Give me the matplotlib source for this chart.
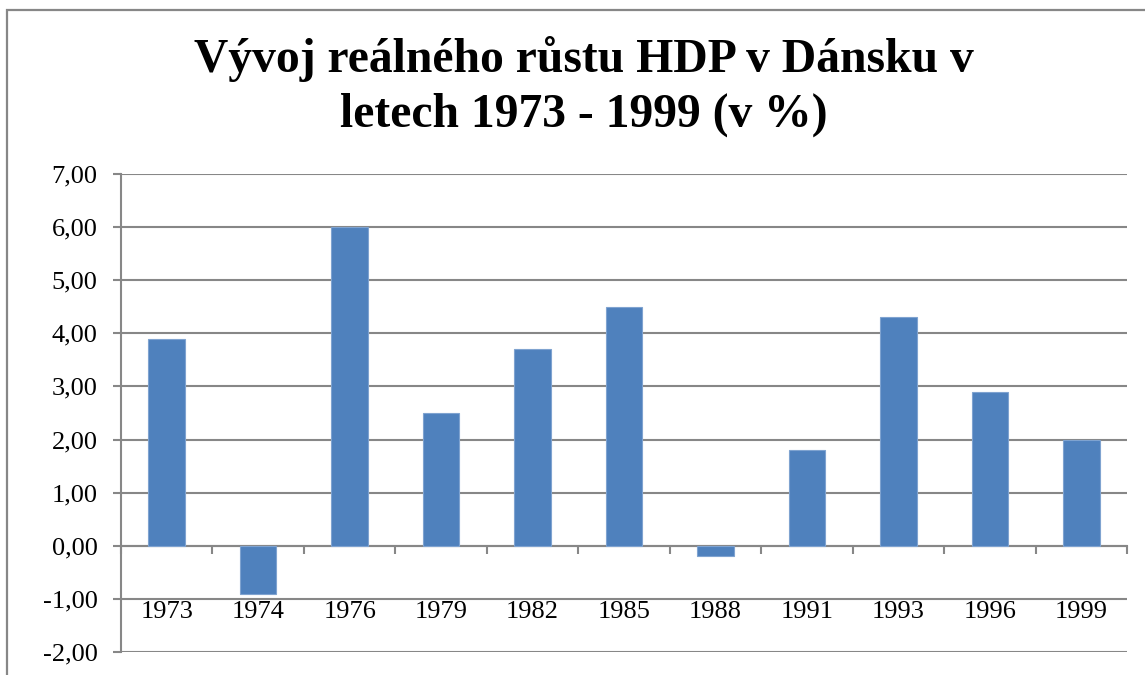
import matplotlib

matplotlib.use("Agg")

import matplotlib.pyplot as plt
import numpy as np
from matplotlib.patches import Rectangle

years = ["1973", "1974", "1976", "1979", "1982", "1985", "1988", "1991", "1993", "1996", "1999"]
growth = [3.9, -0.9, 6.0, 2.5, 3.7, 4.5, -0.2, 1.8, 4.3, 2.9, 2.0]
y_ticks = [-2, -1, 0, 1, 2, 3, 4, 5, 6, 7]
title = "Vývoj reálného růstu HDP v Dánsku v\nletech 1973 - 1999 (v %)"

plt.rcParams["font.family"] = ["Liberation Serif", "DejaVu Serif"]

W, H = 1145, 675
fig = plt.figure(figsize=(W / 100, H / 100), dpi=100)
ax = fig.add_axes([121 / W, 1 - 652 / H, (1127 - 121) / W, (652 - 174) / H])

gray = "#878787"
x = np.arange(len(years))
ax.bar(x, growth, width=0.4, color="#4F81BD", edgecolor="#7FA3D0", linewidth=0.8, zorder=3)

ax.set_xlim(-0.5, len(years) - 0.5)
ax.set_ylim(y_ticks[0], y_ticks[-1])
ax.set_yticks(y_ticks)
ax.set_yticklabels([f"{v:.2f}".replace(".", ",") for v in y_ticks])
ax.yaxis.grid(True, color=gray, linewidth=1.5, zorder=0)
ax.set_axisbelow(True)

ax.set_xticks(np.arange(-0.5, len(years), 1.0))
ax.set_xticklabels([])
ax.set_xticks(x, minor=True)
ax.set_xticklabels(years, minor=True)
ax.tick_params(axis="x", which="major", direction="out", length=5.5, width=1.5, color=gray)
ax.tick_params(axis="x", which="minor", length=0, pad=40, labelsize=19)
ax.tick_params(axis="y", direction="out", length=6, width=1.5, color=gray, pad=11, labelsize=19)

for side in ["top", "right"]:
    ax.spines[side].set_visible(False)
ax.spines["left"].set_color(gray)
ax.spines["left"].set_linewidth(1.5)
ax.spines["bottom"].set_position(("data", 0))
ax.spines["bottom"].set_color(gray)
ax.spines["bottom"].set_linewidth(1.5)

fig.text(584 / W, 1 - 36 / H, title, ha="center", va="top", fontsize=34.3,
         fontweight="bold", linespacing=1.3)

fig.patches.append(Rectangle((7 / W, -0.1), 1.2, 1.1 - 10 / H, transform=fig.transFigure,
                             fill=False, edgecolor=gray, linewidth=1.6))

fig.savefig("out.png", dpi=100)
